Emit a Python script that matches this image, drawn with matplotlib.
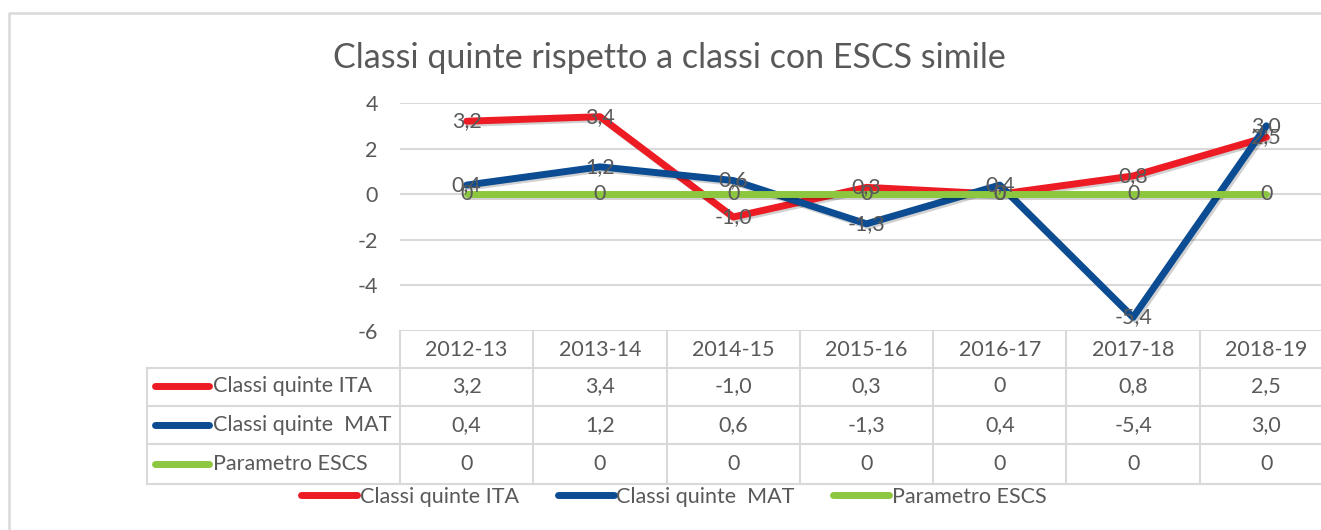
import matplotlib
matplotlib.use("Agg")
import matplotlib.pyplot as plt
import matplotlib.transforms as mtrans
import matplotlib.patheffects as pe
from matplotlib.lines import Line2D

plt.rcParams['font.family'] = ['Lato', 'DejaVu Sans']

anni = ["2012-13", "2013-14", "2014-15", "2015-16", "2016-17", "2017-18", "2018-19"]
ita = [3.2, 3.4, -1.0, 0.3, 0, 0.8, 2.5]
mat = [0.4, 1.2, 0.6, -1.3, 0.4, -5.4, 3.0]
escs = [0, 0, 0, 0, 0, 0, 0]

nomi = ["Classi quinte ITA", "Classi quinte  MAT", "Parametro ESCS"]
colori = ["#ED1C24", "#0B4C92", "#8DC63F"]
serie = [ita, mat, escs]

GRIGIO = "#595959"
BORDO = "#D9D9D9"
W, H = 1321, 530
FS = 15.5


def fx(x):
    return x / W


def fy(y):
    return 1 - y / H


def fmt(v):
    if v == 0:
        return "0"
    return f"{v:.1f}".replace(".", ",")


fig = plt.figure(figsize=(W / 100, H / 100), dpi=100)
ax = fig.add_axes([fx(400), fy(331), fx(933), 228 / H])

x = list(range(len(anni)))
ombra = [pe.SimpleLineShadow(offset=(1.5, -1.5), alpha=0.18, shadow_color="black"), pe.Normal()]
for i, (s, c) in enumerate(zip(serie, colori)):
    ax.plot(x, s, color=c, lw=5, solid_capstyle="round", solid_joinstyle="round",
            zorder=3 + i, path_effects=ombra)

for s in serie:
    for xi, v in zip(x, s):
        ax.text(xi, v, fmt(v), ha="center", va="center", fontsize=FS, color=GRIGIO, zorder=10)

ax.set_xlim(-0.5, len(anni) - 0.5)
ax.set_ylim(-6, 4)
ax.set_yticks([4, 2, 0, -2, -4, -6])
ax.set_yticklabels(["4", "2", "0", "-2", "-4", "-6"])
ax.set_xticks([])
ax.tick_params(axis="y", length=0, pad=16, labelsize=FS, labelcolor=GRIGIO)
ax.grid(axis="y", color=BORDO, lw=1.5)
ax.set_axisbelow(True)
for sp in ax.spines.values():
    sp.set_visible(False)

# tabella dati
blend = mtrans.blended_transform_factory(ax.transData, fig.transFigure)
righe_y = [368, 406, 444, 484]
for yy in righe_y:
    fig.add_artist(Line2D([fx(147), fx(1340)], [fy(yy), fy(yy)], color=BORDO, lw=1.5))
fig.add_artist(Line2D([fx(147), fx(147)], [fy(368), fy(484)], color=BORDO, lw=1.5))
for k in range(len(anni) + 1):
    fig.add_artist(Line2D([k - 0.5, k - 0.5], [fy(331), fy(484)], color=BORDO, lw=1.5,
                          transform=blend))

for xi, a in zip(x, anni):
    fig.text(xi, fy(350), a, transform=blend, ha="center", va="center", fontsize=FS, color=GRIGIO)

centri = [386, 425, 464]
for s, nome, c, yc in zip(serie, nomi, colori, centri):
    fig.add_artist(Line2D([fx(155), fx(209)], [fy(yc), fy(yc)], color=c, lw=5,
                          solid_capstyle="round"))
    fig.text(fx(213), fy(yc), nome, ha="left", va="center", fontsize=FS, color=GRIGIO)
    for xi, v in zip(x, s):
        fig.text(xi, fy(yc), fmt(v), transform=blend, ha="center", va="center",
                 fontsize=FS, color=GRIGIO)

# legenda
maniglie = [Line2D([], [], color=c, lw=5, solid_capstyle="round") for c in colori]
fig.legend(maniglie, nomi, loc="center", bbox_to_anchor=(fx(674), fy(497)), ncol=3,
           frameon=False, fontsize=FS, labelcolor=GRIGIO, handlelength=2.6,
           handletextpad=0.12, columnspacing=1.8, borderpad=0)

fig.text(fx(669), fy(58), "Classi quinte rispetto a classi con ESCS simile",
         ha="center", va="center", fontsize=24.5, color=GRIGIO)

# cornice
fig.add_artist(Line2D([fx(9), fx(9), fx(1330)], [fy(540), fy(13), fy(13)], color=BORDO, lw=1.8))

fig.savefig("out.png", dpi=100)
